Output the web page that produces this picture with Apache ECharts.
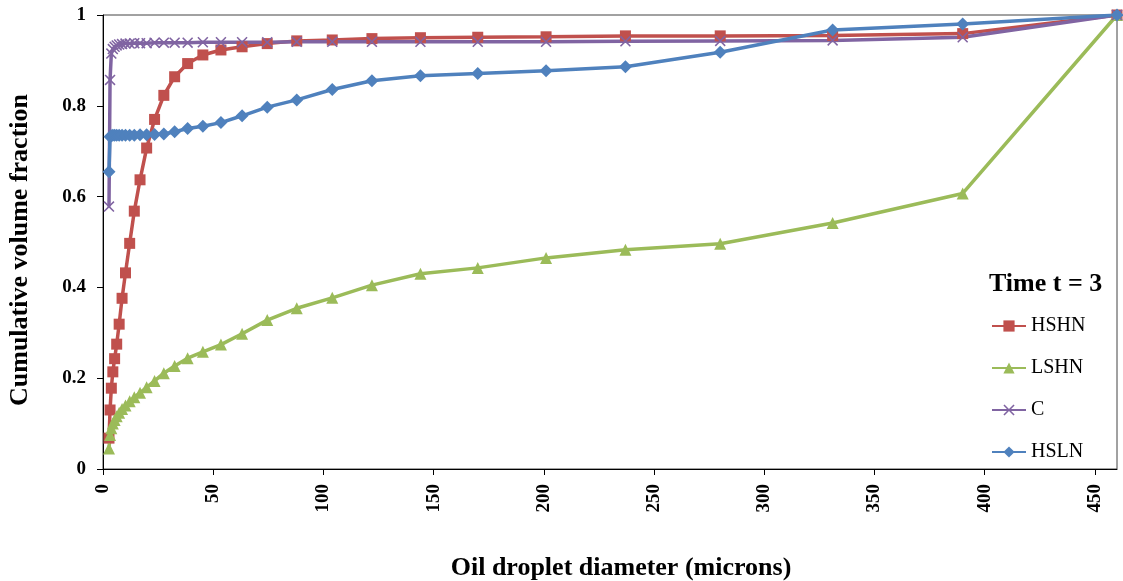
<!DOCTYPE html>
<html>
<head>
<meta charset="utf-8">
<script src="https://cdn.jsdelivr.net/npm/echarts@6/dist/echarts.min.js"></script>
<style>
  html, body { margin: 0; padding: 0; background: #fff; }
  #chart { width: 1123px; height: 581px; }
</style>
</head>
<body>
<div id="chart"></div>
<script>
// Droplet size bins (microns)
const diameters = [2.72, 3.2, 3.78, 4.46, 5.27, 6.21, 7.33, 8.65, 10.2, 12.1, 14.2, 16.8, 19.8, 23.4, 27.6, 32.5, 38.4, 45.3, 53.5, 63.1, 74.5, 87.9, 104, 122, 144, 170, 201, 237, 280, 331, 390, 460];

// Cumulative volume fraction per treatment
const hshn = [0.068, 0.13, 0.178, 0.214, 0.243, 0.275, 0.319, 0.376, 0.432, 0.497, 0.568, 0.637, 0.707, 0.77, 0.823, 0.864, 0.893, 0.912, 0.923, 0.93, 0.937, 0.943, 0.945, 0.948, 0.95, 0.951, 0.952, 0.954, 0.954, 0.955, 0.959, 1.0];
const lshn = [0.045, 0.075, 0.09, 0.1, 0.108, 0.116, 0.124, 0.132, 0.14, 0.149, 0.158, 0.168, 0.18, 0.194, 0.211, 0.227, 0.244, 0.258, 0.274, 0.298, 0.328, 0.354, 0.377, 0.405, 0.43, 0.443, 0.465, 0.483, 0.496, 0.542, 0.607, 1.0];
const ctrl = [0.578, 0.857, 0.915, 0.925, 0.93, 0.933, 0.935, 0.936, 0.937, 0.937, 0.938, 0.938, 0.938, 0.939, 0.939, 0.939, 0.939, 0.94, 0.94, 0.94, 0.94, 0.941, 0.941, 0.941, 0.941, 0.941, 0.941, 0.942, 0.943, 0.944, 0.951, 1.0];
const hsln = [0.655, 0.732, 0.734, 0.735, 0.735, 0.735, 0.735, 0.735, 0.735, 0.735, 0.735, 0.736, 0.736, 0.737, 0.738, 0.743, 0.75, 0.755, 0.763, 0.778, 0.797, 0.813, 0.836, 0.855, 0.866, 0.871, 0.877, 0.886, 0.918, 0.967, 0.98, 1.0];

const seriesNames = ['HSHN', 'LSHN', 'C', 'HSLN'];
const legendTitle = 'Time t = 3';
const xTitle = 'Oil droplet diameter (microns)';
const yTitle = 'Cumulative volume fraction';

const serif = '"Liberation Serif", "Times New Roman", serif';
const crossPath = 'path://M0,1 L1,0 L5,4 L9,0 L10,1 L6,5 L10,9 L9,10 L5,6 L1,10 L0,9 L4,5 Z';

function pairs(ys) { return diameters.map((d, i) => [d, ys[i]]); }

function lineSeries(name, ys, color, symbol, size) {
  return {
    name: name,
    type: 'line',
    data: pairs(ys),
    symbol: symbol,
    symbolSize: size,
    showAllSymbol: true,
    lineStyle: { color: color, width: 3.5 },
    itemStyle: { color: color },
    emphasis: { disabled: true },
    animation: false
  };
}

const chart = echarts.init(document.getElementById('chart'), null, { renderer: 'canvas' });
chart.setOption({
  backgroundColor: '#fff',
  animation: false,
  title: {
    text: legendTitle,
    left: 984,
    top: 266,
    textStyle: { fontFamily: serif, fontWeight: 'bold', fontSize: 26, color: '#000' }
  },
  legend: {
    orient: 'vertical',
    left: 986,
    top: 311,
    itemWidth: 34,
    itemHeight: 14,
    itemGap: 22,
    data: seriesNames,
    textStyle: { fontFamily: serif, fontSize: 20, color: '#000', lineHeight: 20 }
  },
  grid: {
    left: 103, right: 6, top: 15, bottom: 112,
    outerBoundsMode: 'none',
    containLabel: false,
    show: true, borderColor: '#444', borderWidth: 1
  },
  xAxis: {
    type: 'value',
    min: 0, max: 460, interval: 50,
    name: xTitle,
    nameLocation: 'middle',
    nameGap: 86,
    nameTextStyle: { fontFamily: serif, fontWeight: 'bold', fontSize: 26, lineHeight: 26, color: '#000', padding: [0, 0, 0, 22] },
    axisLine: { show: true, lineStyle: { color: '#000', width: 1 } },
    axisTick: { show: true, length: 6, lineStyle: { color: '#000' } },
    splitLine: { show: false },
    axisLabel: {
      rotate: 90, margin: 15, showMaxLabel: false,
      fontFamily: serif, fontWeight: 'bold', fontSize: 19, color: '#000'
    }
  },
  yAxis: {
    type: 'value',
    min: 0, max: 1, interval: 0.2,
    name: yTitle,
    nameLocation: 'middle',
    nameGap: 70,
    nameTextStyle: { fontFamily: serif, fontWeight: 'bold', fontSize: 26, color: '#000', padding: [0, 16, 0, 0] },
    axisLine: { show: true, lineStyle: { color: '#000', width: 1 } },
    axisTick: { show: true, length: 6, lineStyle: { color: '#000' } },
    splitLine: { show: false },
    axisLabel: { margin: 17, fontFamily: serif, fontWeight: 'bold', fontSize: 19, color: '#000' }
  },
  series: [
    lineSeries('HSHN', hshn, '#C0504D', 'rect', 11),
    lineSeries('LSHN', lshn, '#9BBB59', 'triangle', 12),
    lineSeries('C', ctrl, '#8064A2', crossPath, 11),
    lineSeries('HSLN', hsln, '#4F81BD', 'diamond', 13)
  ]
});
</script>
</body>
</html>
